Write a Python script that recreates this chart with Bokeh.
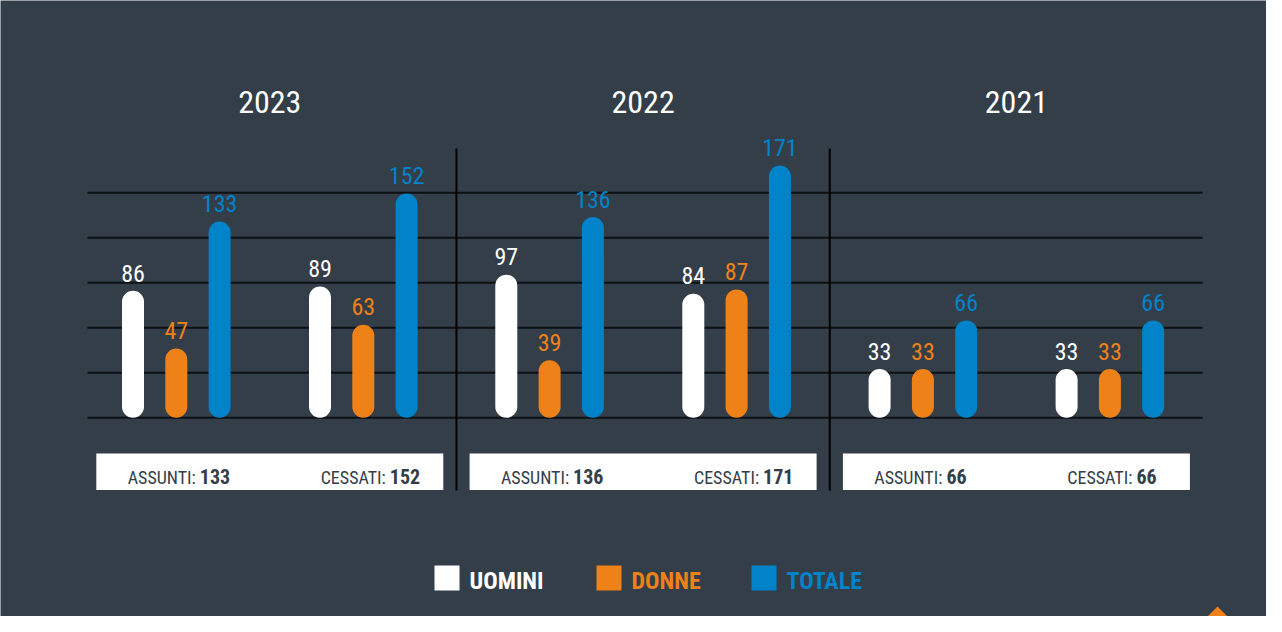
from bokeh.plotting import figure
from bokeh.models import Range1d, ColumnDataSource
from bokeh.core.properties import value
from bokeh.embed import file_html
from bokeh.resources import INLINE

# ---------------- data ----------------
years = ["2023", "2022", "2021"]
kinds = ["ASSUNTI", "CESSATI"]
uomini = [86, 89, 97, 84, 33, 33]   # order: 2023 A, 2023 C, 2022 A, 2022 C, 2021 A, 2021 C
donne = [47, 63, 39, 87, 33, 33]
totale = [133, 152, 136, 171, 66, 66]
series_names = ["UOMINI", "DONNE", "TOTALE"]
series_values = [uomini, donne, totale]

# ---------------- style / layout ----------------
BG = "#333e48"
COLORS = ["#ffffff", "#ef8119", "#0083c9"]
GRID_C = "#0e1114"
FONT = "Roboto Condensed, Roboto"
W, H = 1266, 616
PX = 1.476            # pixels per unit
Y0_IMG = 425.3        # image y of value 0
BASE_FIX = 0.41       # baseline correction (fraction of font size)
def yv(img_y):
    return (Y0_IMG - img_y) / PX
def ybase(img_y, fs):
    return yv(img_y - BASE_FIX * fs)

X_FIRST, SER_STEP, TYPE_STEP, YEAR_STEP = 140.5, 43.3, 187.0, 373.3
BAR_W = 22
GRID_STEP = 45 / PX
FS_VAL, FS_YEAR, FS_BOX, FS_NUM, FS_LEG = 24, 32, 18, 20, 24

p = figure(width=W, height=H, x_range=Range1d(8, 8 + W),
           y_range=Range1d(yv(8 + H), yv(8)),
           x_axis_type=None, y_axis_type=None, toolbar_location=None,
           output_backend="svg", min_border=0, outline_line_color=None,
           background_fill_color=BG, border_fill_color=BG)
p.grid.visible = False

# gridlines
gy = [k * GRID_STEP for k in range(6)]
p.segment(x0=[95] * 6, x1=[1210] * 6, y0=gy, y1=gy, line_color=GRID_C, line_width=2)

year_centers = [X_FIRST + i * YEAR_STEP + TYPE_STEP / 2 + SER_STEP for i in range(len(years))]

# separators
sep_x = [c + YEAR_STEP / 2 for c in year_centers[:-1]]
p.segment(x0=sep_x, x1=sep_x, y0=[yv(156)] * 2, y1=[yv(498)] * 2, line_color="#000000", line_width=2)

# bars + value labels
for s, (name, vals) in enumerate(zip(series_names, series_values)):
    xs, tops = [], []
    for g, v in enumerate(vals):
        yi, ki = divmod(g, 2)
        xs.append(X_FIRST + yi * YEAR_STEP + ki * TYPE_STEP + s * SER_STEP)
        tops.append(v)
    src = ColumnDataSource(dict(x=xs, top=tops, lab=[str(v) for v in vals],
                                ly=[t + (8 + BASE_FIX * FS_VAL) / PX for t in tops]))
    p.vbar(x="x", top="top", bottom=0, width=BAR_W, source=src,
           fill_color=COLORS[s], line_color=None, border_radius=11)
    p.text(x="x", y="ly", text="lab", source=src, text_color=COLORS[s],
           text_font=value(FONT), text_font_size=f"{FS_VAL}px", text_align="center",
           text_baseline="alphabetic")

# year titles
p.text(x=year_centers, y=[ybase(123, FS_YEAR)] * 3, text=years, text_color="#ffffff",
       text_font=value(FONT), text_font_size=f"{FS_YEAR}px", text_align="center",
       text_baseline="alphabetic")

# white summary boxes
p.quad(left=[c - 173.5 for c in year_centers], right=[c + 173.5 for c in year_centers],
       top=[yv(461)] * 3, bottom=[yv(497.5)] * 3, fill_color="#ffffff", line_color=None)
lab_x, lab_t, num_x, num_t = [], [], [], []
for yi in range(len(years)):
    c = year_centers[yi]
    for ki, k in enumerate(kinds):
        base = c - 74 + ki * 190
        lab_x.append(base); lab_t.append(k + ":")
        num_x.append(base + 4); num_t.append(str(totale[yi * 2 + ki]))
p.text(x=lab_x, y=[ybase(492, FS_BOX)] * 6, text=lab_t, text_color=BG, text_font=value(FONT),
       text_font_size=f"{FS_BOX}px", text_align="right", text_baseline="alphabetic")
p.text(x=num_x, y=[ybase(492, FS_NUM)] * 6, text=num_t, text_color=BG, text_font=value(FONT),
       text_font_size=f"{FS_NUM}px", text_font_style="bold", text_align="left",
       text_baseline="alphabetic")

# legend
leg_sq_x = [454.5, 616.5, 771.5]
p.rect(x=leg_sq_x, y=[yv(585.5)] * 3, width=25, height=25, width_units="screen",
       height_units="screen", fill_color=COLORS, line_color=None)
p.text(x=[x + 22.5 for x in leg_sq_x], y=[ybase(598, FS_LEG)] * 3, text=series_names,
       text_color=COLORS, text_font=value(FONT), text_font_size=f"{FS_LEG}px",
       text_font_style="bold", text_align="left", text_baseline="alphabetic")

# orange corner triangle
p.patch(x=[1207, 1225, 1243], y=[yv(632), yv(614), yv(632)], fill_color="#ef8119", line_color=None)

open("out.html", "w").write(file_html(p, INLINE))
